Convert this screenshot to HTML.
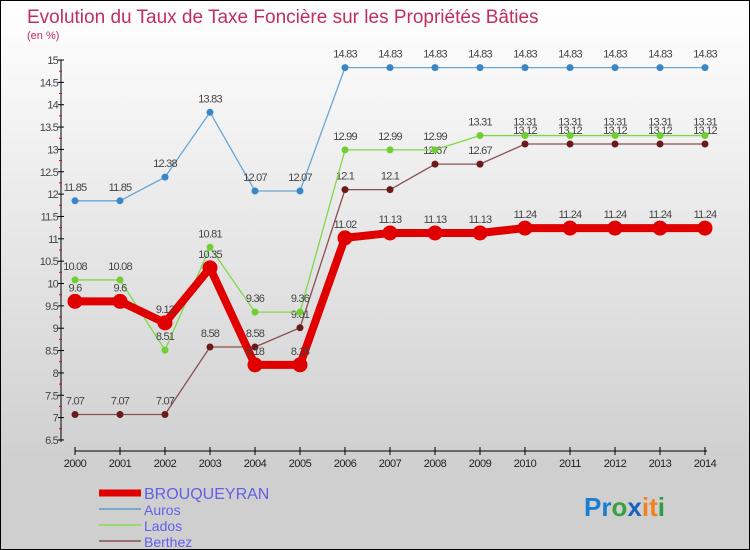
<!DOCTYPE html>
<html><head><meta charset="utf-8"><style>
body{margin:0}
#c{width:748px;height:548px;border:1px solid #000;background:linear-gradient(#fff,#cfcfcf 85%,#cfcfcf);position:relative;overflow:hidden;font-family:"Liberation Sans",sans-serif}
text{font-family:"Liberation Sans",sans-serif}
</style></head><body>
<div id="c">
<svg id="s" width="748" height="548">
<text x="26" y="22" font-size="19" fill="#c0305a">Evolution du Taux de Taxe Foncière sur les Propriétés Bâties</text>
<text x="26" y="38" font-size="11" fill="#c0305a">(en %)</text>
</svg>
</div>
<script>
const years=[2000,2001,2002,2003,2004,2005,2006,2007,2008,2009,2010,2011,2012,2013,2014];
const yTicks=[6.5,7,7.5,8,8.5,9,9.5,10,10.5,11,11.5,12,12.5,13,13.5,14,14.5,15];
const brouqueyran=[9.6,9.6,9.12,10.35,8.18,8.18,11.02,11.13,11.13,11.13,11.24,11.24,11.24,11.24,11.24];
const auros=[11.85,11.85,12.38,13.83,12.07,12.07,14.83,14.83,14.83,14.83,14.83,14.83,14.83,14.83,14.83];
const lados=[10.08,10.08,8.51,10.81,9.36,9.36,12.99,12.99,12.99,13.31,13.31,13.31,13.31,13.31,13.31];
const berthez=[7.07,7.07,7.07,8.58,8.58,9.01,12.1,12.1,12.67,12.67,13.12,13.12,13.12,13.12,13.12];
const s=document.getElementById('s');const NS='http://www.w3.org/2000/svg';
function X(i){return 74+i*45;}
function Y(v){return 59+(15-v)*44.7;}
function el(t,a,p){const e=document.createElementNS(NS,t);for(const k in a)e.setAttribute(k,a[k]);(p||s).appendChild(e);return e;}
// axes
let ax=el('line',{x1:60,y1:59,x2:60,y2:441,stroke:'#000','stroke-width':1});


yTicks.forEach((v,i)=>{
  el('line',{x1:57,x2:63,y1:Y(v),y2:Y(v),stroke:'#000'});
  if(i<yTicks.length-1)el('line',{x1:58,x2:61,y1:Y(v+0.25),y2:Y(v+0.25),stroke:'#e00'});
  const t=el('text',{x:57,y:Y(v)+4,'font-size':11,'text-anchor':'end',fill:'#444','letter-spacing':'-0.8'});
  t.textContent=v;
  
  
});
let xa=el('line',{x1:74,y1:450,x2:706,y2:450,stroke:'#000'});


years.forEach((y,i)=>{
  el('line',{x1:X(i),x2:X(i),y1:446,y2:454,stroke:'#000'});
  const t=el('text',{x:X(i),y:466,'font-size':11,'text-anchor':'middle',fill:'#222','letter-spacing':'-0.5'});
  t.textContent=y;
  
  
});
function series(d,col,w,r,name,dot){
  const g=el('g',{});
  
  
  el('polyline',{points:d.map((v,i)=>X(i)+','+Y(v)).join(' '),fill:'none',stroke:col,'stroke-width':w,'stroke-linejoin':'round'},g);
  d.forEach((v,i)=>{
    const c=el('circle',{cx:X(i),cy:Y(v),r:r,fill:dot},g);
    
    
    const t=el('text',{x:X(i),y:Y(v)-10,'font-size':11,'text-anchor':'middle',fill:'#444','letter-spacing':'-0.8'},g);
    t.textContent=v;
    
    
  });
}
series(auros,'#6aa6d6',1.3,3.5,'auros','#3a86c6');
series(berthez,'#8a5050',1.3,3.5,'berthez','#6b1a1a');
series(lados,'#7fd84a',1.3,3.5,'lados','#6fcf30');
series(brouqueyran,'#e00000',8,7.5,'brouqueyran','#e00000');
// legend
const leg=[['BROUQUEYRAN','#e00000',7,14],['Auros','#7aa8cc',2,9],['Lados','#99d870',2,9],['Berthez','#9a6e6e',2,9]];
leg.forEach((l,i)=>{
  const y=492+i*16;
  const g=el('g',{});
  
  
  el('line',{x1:98,x2:140,y1:y,y2:y,stroke:l[1],'stroke-width':l[2]},g);
  const t=el('text',{x:143,y:y+6,'font-size':l[3]+2,fill:'#6060e8'},g);
  if(i===0)t.setAttribute('font-size',16);else t.setAttribute('font-size',14);
  t.textContent=l[0];
});
const lg=el('text',{x:583,y:515,'font-size':26,'font-weight':'bold'});


[['Pr','#1a7ed0'],['o','#3aa040'],['x','#1a60c0'],['i','#f08020'],['t','#f08020'],['i','#2aa040']].forEach(p=>{const ts=el('tspan',{fill:p[1]},lg);ts.textContent=p[0];});
</script>
</body></html>
